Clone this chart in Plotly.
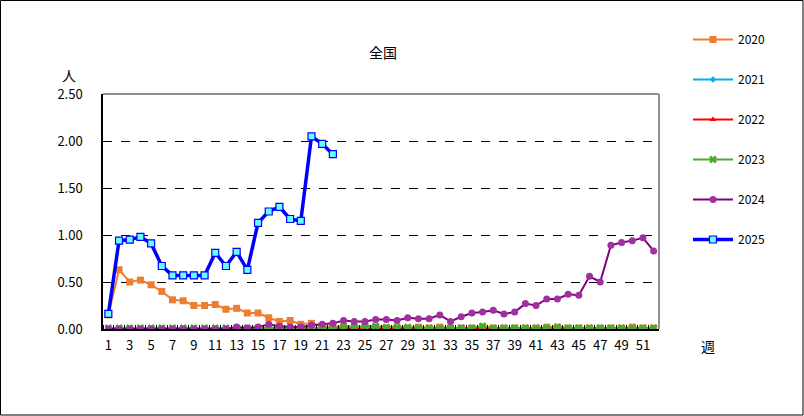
import plotly.graph_objects as go

weeks = list(range(1, 53))
tick_weeks = list(range(1, 53, 2))

v2020 = [0.15, 0.63, 0.50, 0.52, 0.47, 0.40, 0.31, 0.30, 0.25, 0.25,
         0.26, 0.21, 0.22, 0.17, 0.17, 0.12, 0.08, 0.09, 0.05, 0.06,
         0.03, 0.02, 0.03, 0.02, 0.01, 0.02, 0.01, 0.01, 0.01, 0.02,
         0.01, 0.02, 0.01, 0.01, 0.01, 0.02, 0.01, 0.01, 0.01, 0.01,
         0.01, 0.02, 0.02, 0.01, 0.01, 0.01, 0.01, 0.01, 0.01, 0.02,
         0.01, 0.01]
v2021 = [0.00] * 14 + [0.01] * 8 + [0.00] * 30
v2022 = [0.00] * 52
v2023 = [0.01, 0.01, 0.01, 0.01, 0.01, 0.01, 0.01, 0.01, 0.01, 0.01,
         0.01, 0.01, 0.01, 0.01, 0.01, 0.01, 0.01, 0.01, 0.01, 0.01,
         0.01, 0.01, 0.02, 0.02, 0.03, 0.03, 0.02, 0.02, 0.02, 0.01,
         0.01, 0.01, 0.01, 0.01, 0.01, 0.03, 0.01, 0.01, 0.01, 0.01,
         0.01, 0.01, 0.02, 0.01, 0.01, 0.01, 0.01, 0.01, 0.01, 0.01,
         0.01, 0.01]
v2024 = [0.00, 0.00, 0.00, 0.00, 0.00, 0.00, 0.00, 0.00, 0.00, 0.00,
         0.00, 0.00, 0.02, 0.01, 0.02, 0.05, 0.03, 0.02, 0.02, 0.04,
         0.05, 0.06, 0.09, 0.08, 0.08, 0.10, 0.10, 0.09, 0.12, 0.11,
         0.11, 0.15, 0.08, 0.13, 0.17, 0.18, 0.20, 0.16, 0.18, 0.27,
         0.25, 0.32, 0.32, 0.37, 0.36, 0.56, 0.50, 0.89, 0.92, 0.94,
         0.97, 0.83]
v2025 = [0.16, 0.94, 0.95, 0.98, 0.91, 0.67, 0.57, 0.57, 0.57, 0.57,
         0.81, 0.67, 0.82, 0.63, 1.13, 1.25, 1.30, 1.17, 1.15, 2.05,
         1.97, 1.86]

W, H = 804, 416
L, R, T, B = 103, 145, 94, 87
pw, ph = W - L - R, H - T - B

fig = go.Figure()

fig.add_trace(go.Scatter(
    x=weeks, y=v2020, name="2020", mode="lines+markers", legendgroup="a",
    line=dict(color="#ED7D31", width=2),
    marker=dict(symbol="square", size=7, color="#ED7D31"),
))
fig.add_trace(go.Scatter(
    x=weeks, y=v2021, name="2021", mode="lines+markers", legendgroup="b",
    line=dict(color="#00B0F0", width=2),
    marker=dict(symbol="diamond", size=5, color="#00B0F0"),
))
fig.add_trace(go.Scatter(
    x=weeks, y=v2022, name="2022", mode="lines+markers", legendgroup="c",
    line=dict(color="#FF0000", width=2),
    marker=dict(symbol="triangle-up", size=6, color="#FF0000"),
))
fig.add_trace(go.Scatter(
    x=weeks, y=v2023, name="2023", mode="lines+markers", legendgroup="d",
    line=dict(color="#4EA72E", width=2),
    marker=dict(symbol="x", size=7, color="#4EA72E"),
))
fig.add_trace(go.Scatter(
    x=weeks, y=v2024, name="2024", mode="lines+markers", legendgroup="e",
    line=dict(color="#800080", width=2),
    marker=dict(symbol="circle", size=7, color="#A0309F"),
))
fig.add_trace(go.Scatter(
    x=weeks[:len(v2025)], y=v2025, name="2025", mode="lines+markers", legendgroup="f",
    line=dict(color="#0000FF", width=3.5),
    marker=dict(symbol="square", size=7, color="#66FFFF", line=dict(color="#0000FF", width=1.2)),
))

font = "Noto Sans CJK JP"

fig.update_xaxes(
    range=[0.5, 52.5], tickmode="array", tickvals=tick_weeks,
    ticktext=[str(w) for w in tick_weeks], ticks="", showgrid=False,
    showline=True, linecolor="black", linewidth=1.5, zeroline=False,
    tickfont=dict(size=13, color="black"), ticklabelstandoff=4,
    minor=dict(ticks="inside", tick0=0.5, dtick=1, ticklen=4, tickcolor="black", showgrid=False),
)
fig.update_yaxes(
    range=[0, 2.5], dtick=0.5, tickformat=".2f", ticks="",
    showgrid=True, gridcolor="black", griddash="dash", gridwidth=1,
    showline=True, linecolor="black", linewidth=1.5, zeroline=False,
    tickfont=dict(size=13, color="black"), ticklabelstandoff=16,
)

fig.add_shape(type="line", xref="paper", yref="paper", x0=0, x1=1, y0=1, y1=1,
              line=dict(color="#909090", width=2))
fig.add_shape(type="line", xref="paper", yref="paper", x0=1, x1=1, y0=0, y1=1,
              line=dict(color="#909090", width=2))
# outer frame of the chart
fig.add_shape(type="rect", xref="paper", yref="paper",
              x0=(-L + 0.5) / pw, x1=1 + (R - 1) / pw,
              y0=(-B + 1) / ph, y1=1 + (T - 0.5) / ph,
              line=dict(color="black", width=1))


def label(text, px, py):
    fig.add_annotation(text=text, xref="paper", yref="paper",
                       x=(px - L) / pw, y=(T + ph - py) / ph,
                       xanchor="center", yanchor="middle",
                       showarrow=False, font=dict(size=14, color="black"))


label("全国", 383, 52)
label("人", 69, 75)
label("週", 708, 346)

fig.update_layout(
    width=W, height=H,
    margin=dict(l=L, r=R, t=T, b=B),
    paper_bgcolor="white", plot_bgcolor="white",
    font=dict(family=font, color="black"),
    showlegend=True,
    legend=dict(x=(688 - L) / pw, y=1 + (T - 25) / ph, xanchor="left", yanchor="top",
                tracegroupgap=21, font=dict(size=12), itemwidth=40, maxheight=400,
                bgcolor="rgba(0,0,0,0)"),
)

fig.write_html("out.html", config={"displayModeBar": False},
               post_script="document.body.style.margin='0';")
